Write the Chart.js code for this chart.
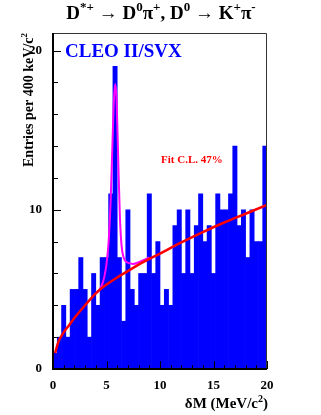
<!DOCTYPE html>
<html>
<head>
<meta charset="utf-8">
<script src="https://cdn.jsdelivr.net/npm/chart.js@4.4.1/dist/chart.umd.min.js"></script>
<style>
  html, body { margin: 0; padding: 0; background: #fff; }
</style>
</head>
<body>
<canvas id="js-dm_chart" width="321" height="415"></canvas>
<script>
"use strict";

// histogram: 50 bins of 400 keV from 0 to 20 MeV
const binWidth = 0.4;
const binCenters = Array.from({ length: 50 }, (_, i) => +(0.2 + i * binWidth).toFixed(1));
const entries = [
  1, 2, 4, 2, 5, 5, 7, 5, 2, 6,
  4, 7, 7, 11, 19, 7, 3, 10, 5, 4,
  6, 6, 11, 6, 8, 4, 5, 4, 9, 10,
  6, 10, 6, 9, 11, 8, 9, 6, 11, 10,
  10, 11, 14, 9, 10, 7, 10, 8, 8, 14,
];

// background fit (red)
const fitX = [0.2, 0.5, 1.0, 1.5, 2.0, 3.0, 4.0, 5.0, 6.0, 7.0, 8.0, 10.0, 12.0, 14.0, 16.0, 18.0, 20.0];
const fitY = [1.0, 1.7, 2.3, 2.75, 3.2, 4.0, 4.75, 5.3, 5.75, 6.15, 6.55, 7.25, 7.95, 8.6, 9.2, 9.75, 10.3];

// signal + background (magenta)
const peakX = [4.0, 4.5, 4.8, 5.0, 5.2, 5.4, 5.55, 5.7, 5.82, 5.95, 6.1, 6.25, 6.4, 6.6, 6.9, 7.5, 8.0, 8.5, 9.0];
const peakY = [4.75, 5.15, 5.8, 6.6, 8.0, 10.8, 14.0, 17.0, 17.9, 16.8, 13.0, 9.6, 7.8, 7.0, 6.7, 6.6, 6.7, 6.85, 7.0];

const xTickLabels = [0, 5, 10, 15, 20];
const yTickLabels = [0, 10, 20];

const serif = "'Liberation Serif', 'Times New Roman', serif";
const fnt = (size) => "bold " + size + "px " + serif;

// text made of [string, isSuperscript] pieces
function drawRuns(ctx, runs, x, y, size, align) {
  const supSize = Math.round(size * 0.66);
  let w = 0;
  runs.forEach((r) => {
    ctx.font = fnt(r[1] ? supSize : size);
    w += ctx.measureText(r[0]).width;
  });
  let cx = align === "center" ? x - w / 2 : align === "right" ? x - w : x;
  ctx.textAlign = "left";
  ctx.textBaseline = "alphabetic";
  runs.forEach((r) => {
    ctx.font = fnt(r[1] ? supSize : size);
    ctx.fillText(r[0], cx, r[1] ? y - size * 0.42 : y);
    cx += ctx.measureText(r[0]).width;
  });
}

const decorations = {
  id: "decorations",
  afterDatasetsDraw(chart) {
    const { ctx, chartArea: a, scales } = chart;
    const x = scales.x, y = scales.y;
    ctx.save();
    ctx.strokeStyle = "#000";
    ctx.lineWidth = 1;
    ctx.beginPath();
    for (let v = 0; v <= 20; v++) {
      const px = Math.round(x.getPixelForValue(v)) + 0.5;
      const len = v % 5 === 0 ? 8 : 4;
      ctx.moveTo(px, a.bottom);
      ctx.lineTo(px, a.bottom - len);
    }
    for (let v = 0; v <= 20; v += 2) {
      const py = Math.round(y.getPixelForValue(v)) + 0.5;
      const len = v % 10 === 0 ? 8 : 5;
      ctx.moveTo(a.left, py);
      ctx.lineTo(a.left + len, py);
    }
    ctx.stroke();

    // frame
    ctx.strokeStyle = "#333";
    ctx.beginPath();
    ctx.moveTo(a.left, a.top + 0.5);
    ctx.lineTo(a.right - 0.5, a.top + 0.5);
    ctx.lineTo(a.right - 0.5, a.bottom);
    ctx.stroke();
    ctx.strokeStyle = "#000";
    ctx.lineWidth = 2;
    ctx.beginPath();
    ctx.moveTo(a.left, a.top);
    ctx.lineTo(a.left, a.bottom);
    ctx.lineTo(a.right, a.bottom);
    ctx.stroke();
    ctx.restore();
  },
  afterDraw(chart) {
    const { ctx, chartArea: a } = chart;
    ctx.save();
    ctx.fillStyle = "#000";
    drawRuns(ctx, [
      ["D", 0], ["*+", 1], [" \u2192 D", 0], ["0", 1], ["\u03c0", 0], ["+", 1],
      [", D", 0], ["0", 1], [" \u2192 K", 0], ["+", 1], ["\u03c0", 0], ["-", 1],
    ], 161, 19, 19, "center");

    drawRuns(ctx, [["\u03b4M (MeV/c", 0], ["2", 1], [")", 0]], a.right + 1, 408, 15, "right");

    ctx.save();
    ctx.translate(33, a.top);
    ctx.rotate(-Math.PI / 2);
    drawRuns(ctx, [["Entries per 400 keV/c", 0], ["2", 1]], 0, 0, 14, "right");
    ctx.restore();

    ctx.fillStyle = "#0000ff";
    drawRuns(ctx, [["CLEO II/SVX", 0]], 65, 57, 19, "left");
    ctx.fillStyle = "#ff0000";
    drawRuns(ctx, [["Fit C.L. 47%", 0]], 161, 163, 11, "left");
    ctx.restore();
  },
};

const ctx = document.getElementById("js-dm_chart").getContext("2d");
const myChart = new Chart(ctx, {
  type: "bar",
  data: {
    datasets: [
      {
        type: "line",
        label: "fit",
        data: fitX.map((v, i) => ({ x: v, y: fitY[i] })),
        borderColor: "#ff0000",
        borderWidth: 2.5,
        pointRadius: 0,
        cubicInterpolationMode: "monotone",
        order: 0,
      },
      {
        type: "line",
        label: "signal",
        data: peakX.map((v, i) => ({ x: v, y: peakY[i] })),
        borderColor: "#ff00ff",
        borderWidth: 2,
        pointRadius: 0,
        cubicInterpolationMode: "monotone",
        order: 1,
      },
      {
        label: "entries",
        data: binCenters.map((v, i) => ({ x: v, y: entries[i] })),
        backgroundColor: "#0000ff",
        borderWidth: 0,
        barPercentage: 1,
        categoryPercentage: 1,
        order: 2,
      },
    ],
  },
  options: {
    responsive: false,
    animation: false,
    devicePixelRatio: 1,
    layout: { padding: { top: 33, right: 54, left: 0, bottom: 0 } },
    plugins: { legend: { display: false }, tooltip: { enabled: false }, title: { display: false } },
    scales: {
      x: {
        type: "linear",
        min: 0,
        max: 20,
        offset: false,
        grid: { display: false, offset: false },
        border: { display: false },
        ticks: {
          stepSize: 5,
          includeBounds: false,
          padding: 1,
          color: "#000",
          font: { family: serif, size: 13, weight: "bold" },
          callback: (v) => (xTickLabels.includes(v) ? String(v) : ""),
          maxRotation: 0,
        },
        afterFit: (s) => { s.height = 46; },
      },
      y: {
        min: 0,
        max: 21.1,
        grid: { display: false },
        border: { display: false },
        ticks: {
          stepSize: 10,
          includeBounds: false,
          padding: 3,
          color: "#000",
          font: { family: serif, size: 13, weight: "bold" },
          callback: (v) => (yTickLabels.includes(v) ? String(v) : ""),
        },
        afterFit: (s) => { s.width = 53; },
      },
    },
  },
  plugins: [decorations],
});
</script>
</body>
</html>
